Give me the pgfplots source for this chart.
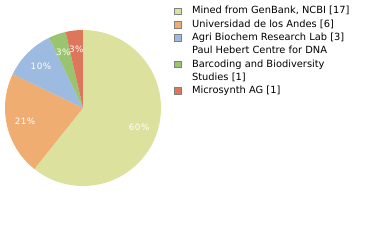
\documentclass[border=0pt]{standalone}
\usepackage{fontspec}
\setmainfont{DejaVu Sans}
\usepackage{pgfplots}
\usepackage{pgfplotstable}
\pgfplotsset{compat=1.18}

\definecolor{slice0}{RGB}{220,226,158}
\definecolor{slice1}{RGB}{239,173,114}
\definecolor{slice2}{RGB}{157,187,224}
\definecolor{slice3}{RGB}{155,196,112}
\definecolor{slice4}{RGB}{222,118,92}

\pgfplotstableread{
value pct
17 60
6 21
3 10
1 3
1 3
}\piedata

\newcommand\labelfont{\fontsize{8.8}{9}\selectfont\addfontfeature{LetterSpace=5}}
\newcommand\lgline[1]{\hbox{\vrule height 9.3bp depth 4bp width 0pt\relax #1}}

\begin{document}
\begin{tikzpicture}
\useasboundingbox (0,0) rectangle (380bp,240bp);
\begin{axis}[
  at={(5bp,54bp)}, anchor=south west,
  scale only axis, width=156bp, height=156bp,
  xmin=-1, xmax=1, ymin=-1, ymax=1,
  hide axis, clip=false,
  legend image code/.code={\draw[#1, draw=gray, line width=0.6bp] (0bp,-3.3bp) rectangle (6.6bp,3.3bp);},
  legend style={
    at={(rel axis cs:1.0855,1.1630)}, anchor=north west,
    draw=none, fill=none, inner sep=0pt, outer sep=0pt,
    font=\fontsize{9.9}{13.3}\selectfont,
    column sep=10.5bp, row sep=0pt,
    nodes={inner sep=0pt, outer sep=0pt, text height=9.3bp, text depth=4bp},
    cells={anchor=west},
  },
]
\addlegendimage{fill=slice0}
\addlegendentry{Mined from GenBank, NCBI [17]}
\addlegendimage{fill=slice1}
\addlegendentry{Universidad de los Andes [6]}
\addlegendimage{fill=slice2}
\addlegendentry{Agri Biochem Research Lab [3]}
\addlegendimage{fill=slice3}
\addlegendentry[text height=35.9bp, text depth=4bp]{\vbox{\baselineskip=0pt\lineskip=0pt\lineskiplimit=0pt
  \lgline{Paul Hebert Centre for DNA}\lgline{Barcoding and Biodiversity}\lgline{Studies [1]}}}
\addlegendimage{fill=slice4}
\addlegendentry{Microsynth AG [1]}

\pgfplotsextra{
  \gdef\total{0}
  \foreach \i in {0,...,4}{
    \pgfplotstablegetelem{\i}{value}\of\piedata
    \pgfmathsetmacro\tmp{\total+\pgfplotsretval}
    \xdef\total{\tmp}
  }
  \gdef\curang{90}
  \foreach \i in {0,...,4}{
    \pgfplotstablegetelem{\i}{value}\of\piedata \let\v\pgfplotsretval
    \pgfmathsetmacro\endang{\curang-\v/\total*360}
    \fill[slice\i] (axis cs:0,0) -- ++(\curang:78bp) arc[start angle=\curang, end angle=\endang, radius=78bp] -- cycle;
    \xdef\curang{\endang}
  }
  \gdef\curang{90}
  \foreach \i in {0,...,4}{
    \pgfplotstablegetelem{\i}{value}\of\piedata \let\v\pgfplotsretval
    \pgfplotstablegetelem{\i}{pct}\of\piedata \let\p\pgfplotsretval
    \pgfmathsetmacro\endang{\curang-\v/\total*360}
    \pgfmathsetmacro\midang{(\curang+\endang)/2}
    \path (axis cs:0,0) ++(\midang:59.5bp) node[text=white, font=\labelfont, inner sep=0pt] {\p\%};
    \xdef\curang{\endang}
  }
}
\end{axis}
\end{tikzpicture}
\end{document}
